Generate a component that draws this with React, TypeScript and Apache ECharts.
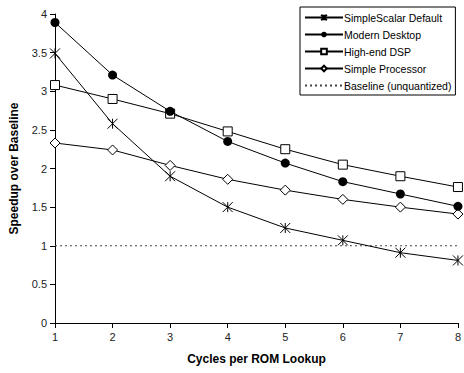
import React, { useEffect, useRef } from "react";
import * as echarts from "echarts";

const cycles = [1, 2, 3, 4, 5, 6, 7, 8];
const simpleScalar = [3.49, 2.58, 1.9, 1.5, 1.23, 1.07, 0.91, 0.81];
const modernDesktop = [3.89, 3.21, 2.74, 2.35, 2.07, 1.83, 1.67, 1.51];
const highEndDsp = [3.08, 2.9, 2.71, 2.48, 2.25, 2.05, 1.9, 1.76];
const simpleProcessor = [2.33, 2.24, 2.04, 1.86, 1.72, 1.6, 1.5, 1.41];
const baseline = [1, 1, 1, 1, 1, 1, 1, 1];
const seriesNames = [
  "SimpleScalar Default",
  "Modern Desktop",
  "High-end DSP",
  "Simple Processor",
  "Baseline (unquantized)",
];

const FONT = "Liberation Sans, Arial, sans-serif";
const asterisk = "path://M0,0L10,10M10,0L0,10M5,0L5,10";

function pairs(vals: number[]) {
  return cycles.map((c, i) => [c, vals[i]]);
}

export default function App() {
  const ref = useRef<HTMLDivElement>(null);
  useEffect(() => {
    if (!ref.current) return;
    const chart = echarts.init(ref.current, undefined, { renderer: "svg" });
    const lineBase = { color: "#000", width: 1 };
    chart.setOption({
      animation: false,
      backgroundColor: "#fff",
      textStyle: { fontFamily: FONT },
      grid: { left: 53, right: 6, top: 14, bottom: 50, containLabel: false },
      legend: {
        orient: "vertical",
        left: 300,
        top: 7,
        padding: [5, 4, 4, 4],
        itemGap: 6,
        itemWidth: 38,
        itemHeight: 7,
        borderColor: "#000",
        borderWidth: 1,
        backgroundColor: "#fff",
        textStyle: { fontFamily: FONT, fontSize: 10.5, color: "#000", padding: [0, 0, 0, -4] },
        data: [
          seriesNames[0],
          seriesNames[1],
          seriesNames[2],
          seriesNames[3],
          { name: seriesNames[4], itemStyle: { opacity: 0 } },
        ],
      },
      xAxis: {
        type: "value",
        min: 1,
        max: 8,
        interval: 1,
        name: "Cycles per ROM Lookup",
        nameLocation: "middle",
        nameGap: 30,
        nameTextStyle: { fontFamily: FONT, fontSize: 12, fontWeight: "bold", color: "#000" },
        axisLine: { lineStyle: { color: "#000", width: 1 } },
        axisTick: { show: true, length: 5, lineStyle: { color: "#000" } },
        axisLabel: { fontFamily: FONT, fontSize: 11, color: "#222", margin: 8 },
        splitLine: { show: false },
      },
      yAxis: {
        type: "value",
        min: 0,
        max: 4,
        interval: 0.5,
        name: "Speedup over Baseline",
        nameLocation: "middle",
        nameGap: 35,
        nameTextStyle: { fontFamily: FONT, fontSize: 12, fontWeight: "bold", color: "#000" },
        axisLine: { show: true, lineStyle: { color: "#000", width: 1 } },
        axisTick: { show: true, length: 5, lineStyle: { color: "#000" } },
        axisLabel: { fontFamily: FONT, fontSize: 11, color: "#222", margin: 8 },
        splitLine: { show: false },
      },
      series: [
        {
          name: seriesNames[0],
          type: "line",
          data: pairs(simpleScalar),
          symbol: asterisk,
          symbolSize: 10,
          showAllSymbol: true,
          lineStyle: lineBase,
          itemStyle: { color: "rgba(0,0,0,0)", borderColor: "#000", borderWidth: 1 },
          z: 5,
        },
        {
          name: seriesNames[1],
          type: "line",
          data: pairs(modernDesktop),
          symbol: "circle",
          symbolSize: 9,
          lineStyle: lineBase,
          itemStyle: { color: "#000", borderColor: "#000", borderWidth: 0 },
          z: 4,
        },
        {
          name: seriesNames[2],
          type: "line",
          data: pairs(highEndDsp),
          symbol: "rect",
          symbolSize: 9,
          lineStyle: lineBase,
          itemStyle: { color: "#fff", borderColor: "#000", borderWidth: 1 },
          z: 3,
        },
        {
          name: seriesNames[3],
          type: "line",
          data: pairs(simpleProcessor),
          symbol: "diamond",
          symbolSize: [10, 10],
          lineStyle: lineBase,
          itemStyle: { color: "#fff", borderColor: "#000", borderWidth: 1 },
          z: 3,
        },
        {
          name: seriesNames[4],
          type: "line",
          data: pairs(baseline),
          symbol: "none",
          lineStyle: { color: "#444", width: 1, type: [2, 3] },
          itemStyle: { color: "#444" },
          z: 2,
        },
      ],
    });
    return () => chart.dispose();
  }, []);
  return <div ref={ref} style={{ width: 464, height: 373, position: "absolute", left: 0, top: 0 }} />;
}
